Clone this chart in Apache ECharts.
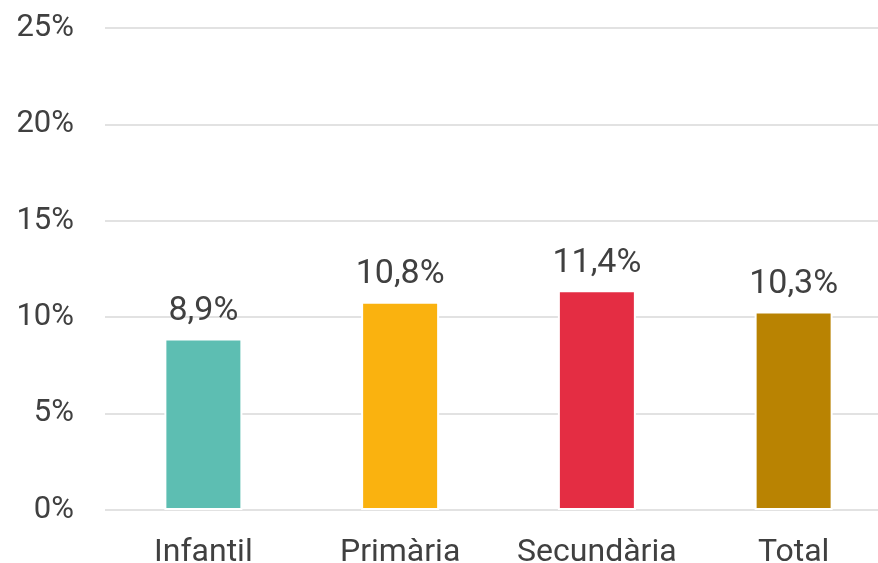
<!DOCTYPE html>
<html>
<head>
<meta charset="utf-8">
<script src="https://cdn.jsdelivr.net/npm/echarts@6/dist/echarts.min.js"></script>
<style>
  html, body { margin: 0; padding: 0; background: #fff; }
  #chart { width: 878px; height: 563px; }
</style>
</head>
<body>
<div id="chart"></div>
<script>
// dades del gràfic
const categories = ['Infantil', 'Primària', 'Secundària', 'Total']
const values = [8.9, 10.8, 11.4, 10.3]
const barColors = ['#5DBEB2', '#FAB20F', '#E42D43', '#B98302']
const yTicks = [0, 5, 10, 15, 20, 25]

const textColor = '#404040'
const chart = echarts.init(document.getElementById('chart'))

chart.setOption({
  animation: false,
  textStyle: { fontFamily: 'Roboto' },
  grid: {
    left: 105,
    width: 787,
    top: 28,
    bottom: 53,
    outerBoundsMode: 'none',
  },
  xAxis: {
    type: 'category',
    data: categories,
    axisLine: { show: false },
    axisTick: { show: false },
    axisLabel: {
      color: textColor,
      fontSize: 32,
      margin: 27,
      interval: 0,
    },
  },
  yAxis: {
    type: 'value',
    min: yTicks[0],
    max: yTicks[yTicks.length - 1],
    interval: 5,
    axisLine: { show: false },
    axisTick: { show: false },
    splitLine: { lineStyle: { color: '#e2e2e2', width: 2 } },
    axisLabel: {
      color: textColor,
      fontSize: 31,
      margin: 31,
      formatter: (v) => v + '%',
    },
  },
  series: [
    {
      type: 'bar',
      barWidth: 78,
      data: values.map((v, i) => ({
        value: v,
        itemStyle: { color: barColors[i] },
      })),
      itemStyle: {
        borderColor: '#ffffff',
        borderWidth: 2,
      },
      label: {
        show: true,
        position: 'top',
        distance: 10,
        color: textColor,
        fontSize: 34,
        formatter: (p) => String(p.value).replace('.', ',') + '%',
      },
    },
  ],
})
</script>
</body>
</html>
